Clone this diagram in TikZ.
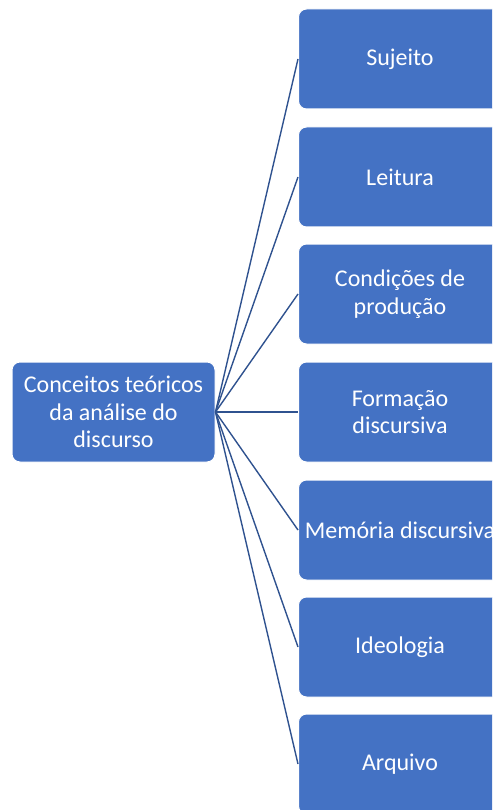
\documentclass[tikz,border=0pt]{standalone}
\usepackage{fontspec}
\setmainfont{Carlito}
\definecolor{boxblue}{HTML}{4472C4}
\definecolor{lineblue}{HTML}{2F528F}
\begin{document}
\begin{tikzpicture}[x=1pt,y=-1pt,
  concept/.style={draw=white, line width=1pt, fill=boxblue, rounded corners=8pt,
    minimum width=203pt, minimum height=100pt, text=white, align=center,
    font=\fontsize{24pt}{27.5pt}\selectfont, inner sep=0pt},
  link/.style={draw=lineblue, line width=1.4pt}]
\useasboundingbox (0,0) rectangle (492,810);
\clip (0,0) rectangle (492,810);
\node[concept] (root) at (113.5,412) {Conceitos teóricos\\da análise do\\discurso};
\node[concept] (n1) at (400,59) {Sujeito};
\node[concept] (n2) at (400,177) {Leitura};
\node[concept] (n3) at (400,294) {Condições de\\produção};
\node[concept] (n4) at (400,412) {Formação\\discursiva};
\node[concept] (n5) at (400,530) {Memória discursiva};
\node[concept] (n6) at (400,647) {Ideologia};
\node[concept] (n7) at (400,764) {Arquivo};
\foreach \n in {n1,n2,n3,n4,n5,n6,n7}
  \draw[link] (root.east) -- (\n.west);
\end{tikzpicture}
\end{document}
